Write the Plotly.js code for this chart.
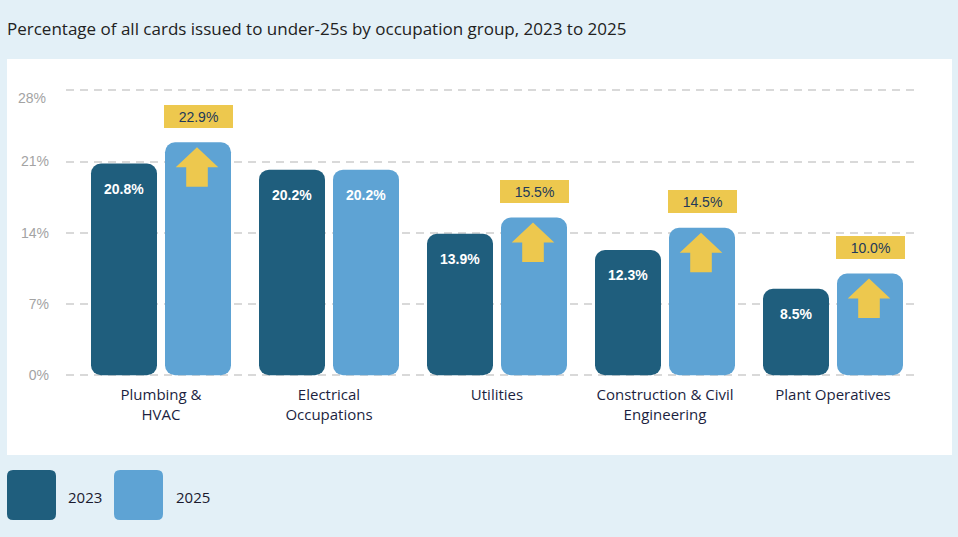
<!DOCTYPE html>
<html><head><meta charset="utf-8">
<script src="https://cdn.plot.ly/plotly-3.0.1.min.js"></script>
<style>html,body{margin:0;padding:0;background:#e3f0f7;} #chart{width:958px;height:537px;}</style>
</head><body><div id="chart"></div>
<script>
// ---- data ----
const categories = ['Plumbing &<br>HVAC', 'Electrical<br>Occupations', 'Utilities', 'Construction & Civil<br>Engineering', 'Plant Operatives'];
const years = ['2023', '2025'];
const values2023 = [20.8, 20.2, 13.9, 12.3, 8.5];
const values2025 = [22.9, 20.2, 15.5, 14.5, 10.0];
const yTickVals = [0, 7, 14, 21, 28];
const yTickText = ['0%', '7%', '14%', '21%', '28%'];

// ---- styles ----
const DARK = '#1f5e7d', LIGHT = '#5ea3d4', GOLD = '#edc84e', BG = '#e3f0f7';
const fmt = v => v.toFixed(1) + '%';
const OFF = 37; // pixel offset of each bar from the category centre

// an explicit base makes Plotly round all four corners of each bar
const traces = [[values2023, DARK, 'a'], [values2025, LIGHT, 'b']].map(d => ({
  type: 'bar', x: categories, y: d[0], base: d[0].map(() => 0), offsetgroup: d[2],
  hoverinfo: 'skip', showlegend: false, marker: {color: d[1], line: {width: 0}, cornerradius: 10}
}));

const annotations = [];
const shapes = [];
const valFont = {family: 'Liberation Sans, Arial, sans-serif', size: 14, color: '#ffffff', weight: 700};
categories.forEach((c, i) => {
  annotations.push({x: c, y: values2023[i], xref: 'x', yref: 'y', xshift: -OFF, yshift: -25, text: fmt(values2023[i]),
    showarrow: false, font: valFont, yanchor: 'middle'});
  if (values2025[i] > values2023[i]) {
    annotations.push({x: c, y: values2025[i], xref: 'x', yref: 'y', xshift: OFF, yshift: 26, text: fmt(values2025[i]),
      showarrow: false, bgcolor: GOLD, width: 69, height: 23, borderpad: 0, borderwidth: 0, yanchor: 'middle',
      font: {family: 'Liberation Sans, Arial, sans-serif', size: 14, color: '#22395a'}});
    shapes.push({type: 'path', xref: 'x', yref: 'y', xsizemode: 'pixel', ysizemode: 'pixel', xanchor: i, yanchor: values2025[i],
      path: 'M36,-5 L57.3,-25 L46.8,-25 L46.8,-44.5 L25.2,-44.5 L25.2,-25 L14.7,-25 Z',
      fillcolor: GOLD, line: {width: 0}, layer: 'above'});
  } else {
    annotations.push({x: c, y: values2025[i], xref: 'x', yref: 'y', xshift: OFF, yshift: -25, text: fmt(values2025[i]),
      showarrow: false, font: valFont, yanchor: 'middle'});
  }
});

// top y tick label sits a little below its gridline in the reference
annotations.push({xref: 'paper', yref: 'y', x: 0, y: yTickVals[yTickVals.length - 1], xshift: -18, yshift: -8,
  xanchor: 'right', yanchor: 'middle', showarrow: false, text: yTickText[yTickText.length - 1],
  font: {family: 'Liberation Sans, Arial, sans-serif', size: 14, color: '#a3a3a3'}});
const axisTickText = yTickText.map((t, k) => (k === yTickText.length - 1 ? '' : t));

// white panel (pixel offsets from plot-area bottom-left)
shapes.push({type: 'rect', xref: 'paper', yref: 'paper', xsizemode: 'pixel', ysizemode: 'pixel', xanchor: 0, yanchor: 0,
  x0: -59, x1: 886, y0: -77, y1: 319, fillcolor: '#ffffff', line: {width: 0}, layer: 'below'});

// legend swatches + text
function roundRect(x0, x1, y0, y1, r) {
  return `M${x0 + r},${y0} L${x1 - r},${y0} Q${x1},${y0} ${x1},${y0 - r} L${x1},${y1 + r} Q${x1},${y1} ${x1 - r},${y1} ` +
         `L${x0 + r},${y1} Q${x0},${y1} ${x0},${y1 + r} L${x0},${y0 - r} Q${x0},${y0} ${x0 + r},${y0} Z`;
}
[[DARK, -59, -0.5], [LIGHT, 48, 107.5]].forEach((d, k) => {
  shapes.push({type: 'path', xref: 'paper', yref: 'paper', xsizemode: 'pixel', ysizemode: 'pixel', xanchor: 0, yanchor: 0,
    path: roundRect(d[1], d[1] + 49, -92, -142, 6), fillcolor: d[0], line: {width: 0}, layer: 'above'});
  annotations.push({xref: 'paper', yref: 'paper', x: 0, y: 0, xshift: d[2], yshift: -118.7, xanchor: 'left', yanchor: 'middle',
    text: years[k], showarrow: false, font: {family: 'Open Sans, sans-serif', size: 15, color: '#1a1a2e'}});
});

const layout = {
  width: 958, height: 537,
  margin: {l: 66, r: 40, t: 80, b: 159, pad: 0},
  paper_bgcolor: BG, plot_bgcolor: 'rgba(0,0,0,0)',
  title: {text: 'Percentage of all cards issued to under-25s by occupation group, 2023 to 2025',
    font: {family: 'Open Sans, sans-serif', size: 17, color: '#222222'},
    x: 7 / 958, xanchor: 'left', xref: 'container', y: 1 - 29 / 537, yanchor: 'middle', yref: 'container'},
  barmode: 'group', bargap: 1 - 148 / 168, bargroupgap: 8 / 74,
  xaxis: {type: 'category', range: [-95 / 168, -95 / 168 + 852 / 168], showgrid: false, zeroline: false, showline: false, ticks: '',
    tickfont: {family: 'Open Sans, sans-serif', size: 15, color: '#1c1f3f'}, ticklabelstandoff: 6, fixedrange: true},
  yaxis: {range: [-0.265, 29.01], tickvals: yTickVals, ticktext: axisTickText, showgrid: true, gridcolor: '#d9d9d9',
    gridwidth: 2, griddash: '8px,6px', zeroline: false, showline: false, ticks: '',
    tickfont: {family: 'Liberation Sans, Arial, sans-serif', size: 14, color: '#a3a3a3'}, ticklabelstandoff: 16, fixedrange: true},
  annotations: annotations,
  shapes: shapes,
  showlegend: false
};

Plotly.newPlot('chart', traces, layout, {displayModeBar: false, staticPlot: true});
</script>
</body></html>
